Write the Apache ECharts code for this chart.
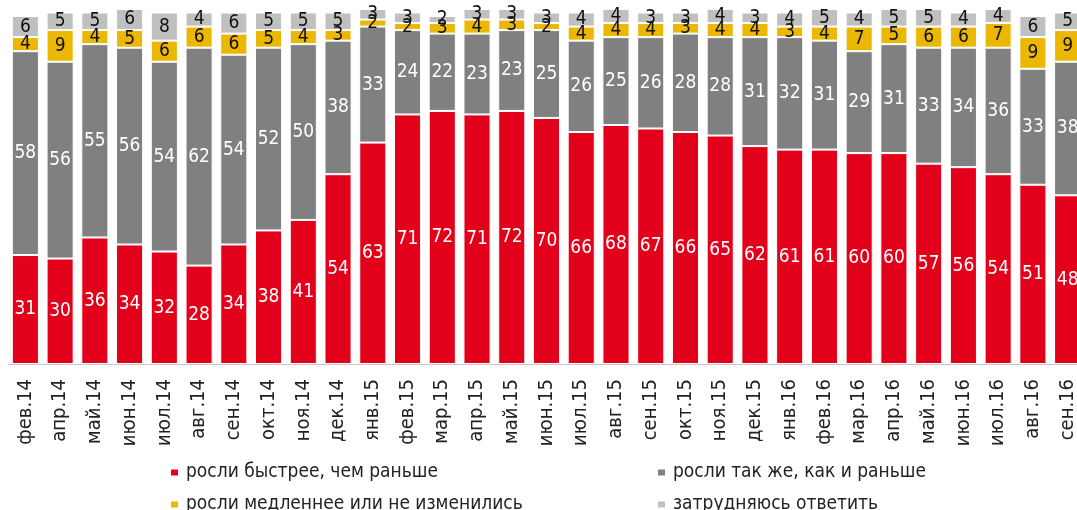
<!DOCTYPE html>
<html lang="ru">
<head>
<meta charset="UTF-8">
<title>Chart</title>
<script src="https://cdn.jsdelivr.net/npm/echarts@6/dist/echarts.min.js"></script>
<style>
    html, body, #chart {
        width: 1077px;
        height: 510px;
        margin: 0;
        padding: 0;
        background: #fff;
        overflow: hidden;
    }
</style>
</head>
<body>
<div id="chart"></div>
<script>
    const months = ['фев.14', 'апр.14', 'май.14', 'июн.14', 'июл.14', 'авг.14', 'сен.14', 'окт.14', 'ноя.14', 'дек.14',
        'янв.15', 'фев.15', 'мар.15', 'апр.15', 'май.15', 'июн.15', 'июл.15', 'авг.15', 'сен.15', 'окт.15', 'ноя.15', 'дек.15',
        'янв.16', 'фев.16', 'мар.16', 'апр.16', 'май.16', 'июн.16', 'июл.16', 'авг.16', 'сен.16'];
    const faster = [31, 30, 36, 34, 32, 28, 34, 38, 41, 54, 63, 71, 72, 71, 72, 70, 66, 68, 67, 66, 65, 62, 61, 61, 60, 60, 57, 56, 54, 51, 48];
    const same = [58, 56, 55, 56, 54, 62, 54, 52, 50, 38, 33, 24, 22, 23, 23, 25, 26, 25, 26, 28, 28, 31, 32, 31, 29, 31, 33, 34, 36, 33, 38];
    const slower = [4, 9, 4, 5, 6, 6, 6, 5, 4, 3, 2, 2, 3, 4, 3, 2, 4, 4, 4, 3, 4, 4, 3, 4, 7, 5, 6, 6, 7, 9, 9];
    const hard = [6, 5, 5, 6, 8, 4, 6, 5, 5, 5, 3, 3, 2, 3, 3, 3, 4, 4, 3, 3, 4, 3, 4, 5, 4, 5, 5, 4, 4, 6, 5];

    const names = ['росли быстрее, чем раньше', 'росли так же, как и раньше',
        'росли медленнее или не изменились', 'затрудняюсь ответить'];

    const font = "'Liberation Sans Narrow', 'DejaVu Sans Condensed', 'Noto Sans', sans-serif";

    function makeSeries(name, data, color, textColor) {
        return {
            name: name,
            type: 'bar',
            stack: 'all',
            data: data,
            barCategoryGap: '22%',
            itemStyle: { color: color, borderColor: '#fff', borderWidth: 1 },
            label: {
                show: true,
                position: 'inside',
                color: textColor,
                fontFamily: font,
                fontSize: 19
            }
        };
    }

    // one legend per entry, so the 2x2 layout is fixed
    function makeLegend(name, left, top) {
        return {
            left: left, top: top,
            itemWidth: 9, itemHeight: 8, itemGap: 0,
            icon: 'rect',
            data: [name],
            textStyle: { fontFamily: font, fontSize: 19, color: '#222', padding: [0, 0, 0, 2] }
        };
    }

    const chart = echarts.init(document.getElementById('chart'));
    chart.setOption({
        animation: false,
        grid: { left: 8, top: 9, width: 1077, height: 355, outerBoundsMode: 'none' },
        legend: [
            makeLegend(names[0], 164, 458),
            makeLegend(names[2], 164, 490),
            makeLegend(names[1], 651, 458),
            makeLegend(names[3], 651, 490)
        ],
        xAxis: {
            type: 'category',
            data: months,
            axisLine: { lineStyle: { color: '#c8c8c8' } },
            axisTick: { length: 6, lineStyle: { color: '#c8c8c8' } },
            axisLabel: {
                rotate: 90,
                interval: 0,
                margin: 15,
                fontFamily: font,
                fontSize: 20,
                color: '#222'
            }
        },
        yAxis: { type: 'value', min: 0, max: 101, show: false, splitLine: { show: false } },
        series: [
            makeSeries(names[0], faster, '#e2001a', '#fff'),
            makeSeries(names[1], same, '#808080', '#fff'),
            makeSeries(names[2], slower, '#ebb700', '#111'),
            makeSeries(names[3], hard, '#c0c0c0', '#111')
        ]
    });
</script>
</body>
</html>
